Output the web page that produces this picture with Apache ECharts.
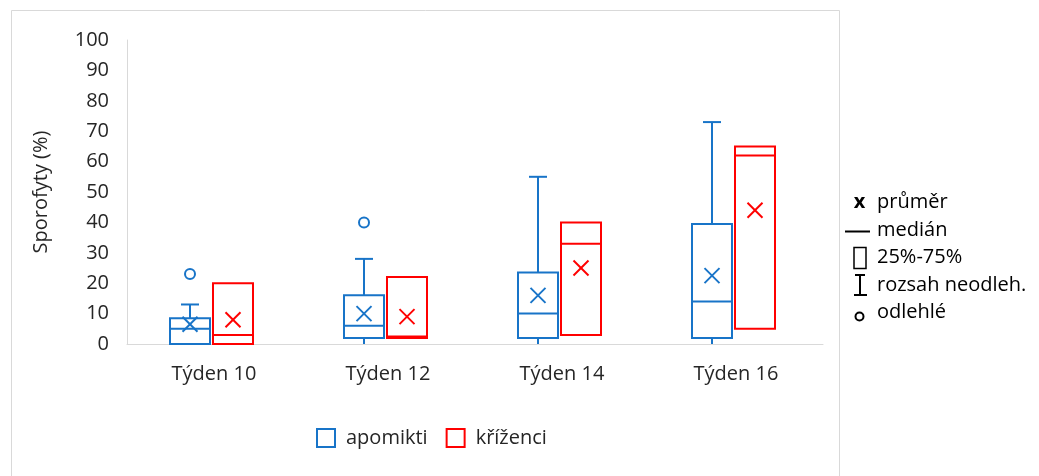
<!DOCTYPE html>
<html>
<head>
<meta charset="utf-8">
<script src="https://cdn.jsdelivr.net/npm/echarts@6/dist/echarts.min.js"></script>
<style>html,body{margin:0;padding:0;background:#fff}#c{width:1039px;height:476px}</style>
</head>
<body>
<div id="c"></div>
<script>
// ---- data ----
const categories = ['Týden 10', 'Týden 12', 'Týden 14', 'Týden 16'];
const yTicks = [0, 10, 20, 30, 40, 50, 60, 70, 80, 90, 100];

const apoMin    = [0, 0, 0, 0];
const apoQ1     = [0, 2, 2, 2];
const apoMedian = [5, 6, 10, 14];
const apoQ3     = [8.5, 16, 23.5, 39.5];
const apoMax    = [13, 28, 55, 73];
const apoMean   = [6.5, 10, 16, 22.5];
const apoOutliers = [[0, 23], [1, 40]];

const kriMin    = [0, 2, 3, 5];
const kriQ1     = [0, 2, 3, 5];
const kriMedian = [3, 2.5, 33, 62];
const kriQ3     = [20, 22, 40, 65];
const kriMax    = [20, 22, 40, 65];
const kriMean   = [8, 9, 25, 44];

// ---- styles ----
const BLUE = '#1874c8';
const RED = '#ff0000';
const FONT = 'Open Sans';
const TXT = '#262626';
const BOX_W = 40;
const APO_OFF = -24;
const KRI_OFF = 19;

function rows(mins, q1s, meds, q3s, maxs, means) {
  return categories.map((c, i) => [i, mins[i], q1s[i], meds[i], q3s[i], maxs[i], means[i]]);
}

function boxRenderer(offset, color) {
  return function (params, api) {
    const cat = api.value(0);
    const vMin = api.value(1), vQ1 = api.value(2), vMed = api.value(3), vQ3 = api.value(4), vMax = api.value(5), vMean = api.value(6);
    const cx = api.coord([cat, 0])[0] + offset;
    const y = v => api.coord([cat, v])[1];
    const left = cx - BOX_W / 2;
    const st = { stroke: color, lineWidth: 2, fill: null };
    const ch = [];
    ch.push({ type: 'rect', shape: { x: left, y: y(vQ3), width: BOX_W, height: y(vQ1) - y(vQ3) }, style: st });
    ch.push({ type: 'line', shape: { x1: left, y1: y(vMed), x2: left + BOX_W, y2: y(vMed) }, style: st });
    if (vMax > vQ3) {
      ch.push({ type: 'line', shape: { x1: cx, y1: y(vQ3), x2: cx, y2: y(vMax) }, style: st });
      ch.push({ type: 'line', shape: { x1: cx - 9, y1: y(vMax), x2: cx + 9, y2: y(vMax) }, style: st });
    }
    if (vMin < vQ1) {
      ch.push({ type: 'line', shape: { x1: cx, y1: y(vQ1), x2: cx, y2: y(vMin) }, style: st });
    }
    const my = y(vMean), h = 7.5;
    ch.push({ type: 'line', shape: { x1: cx - h, y1: my - h, x2: cx + h, y2: my + h }, style: st });
    ch.push({ type: 'line', shape: { x1: cx - h, y1: my + h, x2: cx + h, y2: my - h }, style: st });
    return { type: 'group', children: ch };
  };
}

const chart = echarts.init(document.getElementById('c'), null, { renderer: 'canvas' });
chart.setOption({
  backgroundColor: '#fff',
  animation: false,
  textStyle: { fontFamily: FONT },
  grid: { left: 127, right: 216, top: 40, bottom: 132 },
  xAxis: {
    type: 'category',
    data: categories,
    axisLine: { lineStyle: { color: '#d9d9d9', width: 1 } },
    axisTick: { show: false },
    axisLabel: { fontSize: 20, color: TXT, margin: 20, fontFamily: FONT }
  },
  yAxis: {
    type: 'value',
    min: yTicks[0], max: yTicks[yTicks.length - 1], interval: 10,
    name: 'Sporofyty (%)',
    nameLocation: 'middle',
    nameRotate: 90,
    nameGap: 76,
    nameTextStyle: { fontSize: 20, color: TXT, fontFamily: FONT },
    axisLine: { show: true, lineStyle: { color: '#d9d9d9', width: 1 } },
    axisTick: { show: false },
    splitLine: { show: false },
    axisLabel: { fontSize: 20, color: TXT, margin: 18, fontFamily: FONT }
  },
  legend: {
    left: 311, top: 423,
    itemWidth: 18, itemHeight: 18, itemGap: 18,
    textStyle: { fontSize: 20, color: TXT, fontFamily: FONT, padding: [0, 0, 0, 6] },
    data: [
      { name: 'apomikti', icon: 'rect', itemStyle: { color: '#fff', borderColor: BLUE, borderWidth: 2 } },
      { name: 'kříženci', icon: 'rect', itemStyle: { color: '#fff', borderColor: RED, borderWidth: 2 } }
    ]
  },
  series: [
    {
      name: 'apomikti', type: 'custom', color: BLUE,
      renderItem: boxRenderer(APO_OFF, BLUE),
      encode: { x: 0, y: [1, 2, 3, 4, 5, 6] },
      data: rows(apoMin, apoQ1, apoMedian, apoQ3, apoMax, apoMean)
    },
    {
      name: 'kříženci', type: 'custom', color: RED,
      renderItem: boxRenderer(KRI_OFF, RED),
      encode: { x: 0, y: [1, 2, 3, 4, 5, 6] },
      data: rows(kriMin, kriQ1, kriMedian, kriQ3, kriMax, kriMean)
    },
    {
      name: 'apomikti', type: 'scatter',
      symbol: 'circle', symbolSize: 10, symbolOffset: [APO_OFF, 0],
      itemStyle: { color: '#fff', borderColor: BLUE, borderWidth: 2, opacity: 1 },
      data: apoOutliers
    }
  ],
  graphic: [
    { type: 'rect', shape: { x: 11.5, y: 10.5, width: 828, height: 500 }, style: { fill: null, stroke: '#d9d9d9', lineWidth: 1 }, silent: true, z: -1 },
    { type: 'text', x: 859.5, y: 202, style: { text: 'x', font: 'bold 20px "Open Sans"', fill: '#000', align: 'center', verticalAlign: 'middle' } },
    { type: 'text', x: 877, y: 202, style: { text: 'průměr', font: '20px "Open Sans"', fill: '#000', verticalAlign: 'middle' } },
    { type: 'line', shape: { x1: 845, y1: 231.5, x2: 870, y2: 231.5 }, style: { stroke: '#000', lineWidth: 2 } },
    { type: 'text', x: 877, y: 230, style: { text: 'medián', font: '20px "Open Sans"', fill: '#000', verticalAlign: 'middle' } },
    { type: 'rect', shape: { x: 854, y: 247.5, width: 12, height: 21 }, style: { fill: null, stroke: '#000', lineWidth: 1.5 } },
    { type: 'text', x: 877, y: 257, style: { text: '25%-75%', font: '20px "Open Sans"', fill: '#000', verticalAlign: 'middle' } },
    { type: 'line', shape: { x1: 860, y1: 275, x2: 860, y2: 295 }, style: { stroke: '#000', lineWidth: 2 } },
    { type: 'line', shape: { x1: 855, y1: 275, x2: 865, y2: 275 }, style: { stroke: '#000', lineWidth: 2 } },
    { type: 'line', shape: { x1: 854, y1: 295, x2: 867, y2: 295 }, style: { stroke: '#000', lineWidth: 2 } },
    { type: 'text', x: 877, y: 285, style: { text: 'rozsah neodleh.', font: '20px "Open Sans"', fill: '#000', verticalAlign: 'middle' } },
    { type: 'circle', shape: { cx: 859.5, cy: 316.5, r: 4 }, style: { fill: null, stroke: '#000', lineWidth: 2 } },
    { type: 'text', x: 877, y: 312, style: { text: 'odlehlé', font: '20px "Open Sans"', fill: '#000', verticalAlign: 'middle' } }
  ]
});
</script>
</body>
</html>
